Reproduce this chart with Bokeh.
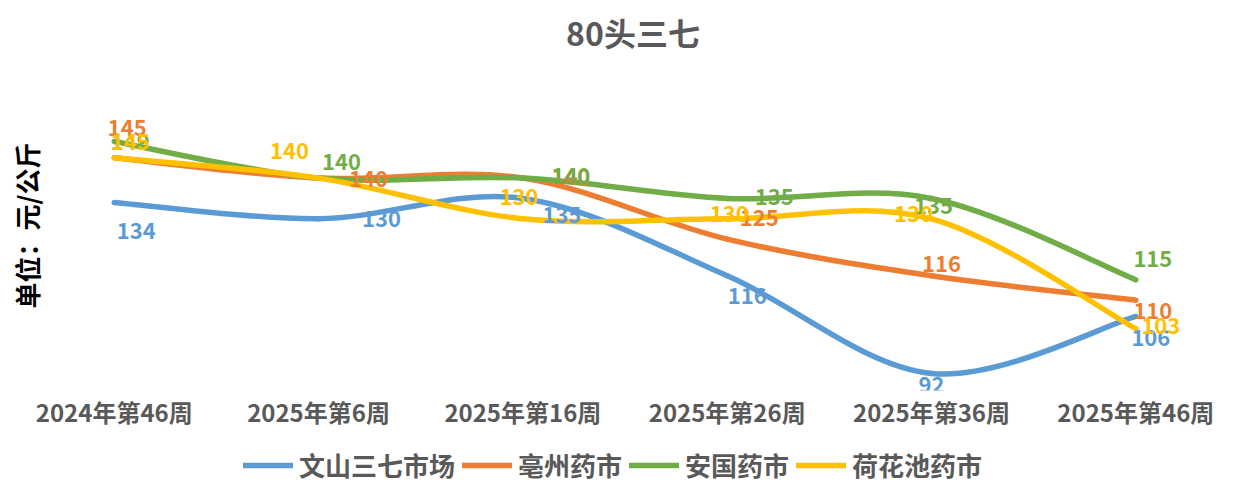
from bokeh.plotting import figure
from bokeh.layouts import column
from bokeh.models import ColumnDataSource, Legend, LegendItem, Title, FixedTicker
from bokeh.core.properties import value
from bokeh.embed import file_html
from bokeh.resources import INLINE

categories = ["2024年第46周", "2025年第6周", "2025年第16周", "2025年第26周", "2025年第36周", "2025年第46周"]
series_names = ["文山三七市场", "亳州药市", "安国药市", "荷花池药市"]
wenshan = [134, 130, 135, 116, 92, 106]
bozhou = [145, 140, 140, 125, 116, 110]
anguo = [149, 140, 140, 135, 135, 115]
hehuachi = [145, 140, 130, 130, 130, 103]
series_values = [wenshan, bozhou, anguo, hehuachi]
colors = ["#5B9BD5", "#ED7D31", "#70AD47", "#FFC000"]

# label pixel offsets (style only)
label_dx = [
    [22, 63, 39, 20, 0, 15],
    [13, 50, 48, 32, 10, 17],
    [16, 23, 48, 47, 2, 17],
    [16, -29, -4, 2, -18, 25],
]
label_dy = [
    [28, 0, 16, 20, 11, 21],
    [-30, 0, -2, -22, -12, 10],
    [0, -17, -3, -2, 7, -21],
    [-16, -28, -22, -5, -5, -3],
]

FONT = "Noto Sans CJK SC"
GREY = "#595959"

p = figure(frame_width=1167, frame_height=330, output_backend="svg", toolbar_location=None,
           x_range=(-0.3168, 5.3947), y_range=(87.8, 168.9),
           min_border_left=49, min_border_right=8, min_border_top=6, min_border_bottom=48)
p.outline_line_color = None
p.xgrid.visible = False
p.ygrid.visible = False
p.yaxis.visible = False
p.background_fill_color = "white"
p.border_fill_color = "white"

p.title.text = "80头三七"
p.title.align = "center"
p.title.offset = -12
p.title.text_font = FONT
p.title.text_font_size = "32px"
p.title.text_font_style = "bold"
p.title.text_color = GREY
p.title.standoff = 12

p.add_layout(Title(text="单位：元/公斤", align="center", text_font=FONT, text_font_size="26px",
                   text_font_style="bold", text_color="black"), "left")

xs = list(range(len(categories)))
p.xaxis.ticker = FixedTicker(ticks=xs)
p.xaxis.major_label_overrides = {i: c for i, c in enumerate(categories)}
p.xaxis.axis_line_color = None
p.xaxis.major_tick_line_color = None
p.xaxis.minor_tick_line_color = None
p.xaxis.major_tick_in = 0
p.xaxis.major_tick_out = 0
p.xaxis.major_label_standoff = 3
p.xaxis.major_label_text_font = FONT
p.xaxis.major_label_text_font_size = "24px"
p.xaxis.major_label_text_font_style = "bold"
p.xaxis.major_label_text_color = GREY


def smooth_segments(x, y, t=1.0 / 6.0):
    n = len(x)
    d = dict(x0=[], y0=[], x1=[], y1=[], cx0=[], cy0=[], cx1=[], cy1=[])
    for i in range(n - 1):
        pm = max(i - 1, 0)
        pn = min(i + 2, n - 1)
        d["x0"].append(x[i]); d["y0"].append(y[i])
        d["x1"].append(x[i + 1]); d["y1"].append(y[i + 1])
        d["cx0"].append(x[i] + (x[i + 1] - x[pm]) * t)
        d["cy0"].append(y[i] + (y[i + 1] - y[pm]) * t)
        d["cx1"].append(x[i + 1] - (x[pn] - x[i]) * t)
        d["cy1"].append(y[i + 1] - (y[pn] - y[i]) * t)
    return d


for vals, col in zip(series_values, colors):
    src = ColumnDataSource(smooth_segments(xs, vals))
    p.bezier(x0="x0", y0="y0", x1="x1", y1="y1", cx0="cx0", cy0="cy0", cx1="cx1", cy1="cy1",
             source=src, line_color=col, line_width=5.5, line_cap="round")

for vals, col, dx, dy in zip(series_values, colors, label_dx, label_dy):
    src = ColumnDataSource(dict(x=xs, y=vals, t=[str(v) for v in vals], dx=dx, dy=dy))
    p.text(x="x", y="y", text="t", x_offset="dx", y_offset="dy", source=src,
           text_align="center", text_baseline="middle", text_font=value(FONT),
           text_font_size="22px", text_font_style="bold", text_color=col)

# legend strip below the chart (its lines sit outside the visible range)
lg = figure(width=1224, height=45, output_backend="svg", toolbar_location=None,
            x_range=(0, 1), y_range=(0, 1), x_axis_type=None, y_axis_type=None,
            min_border_left=0, min_border_right=0, min_border_top=0, min_border_bottom=0)
lg.outline_line_color = None
lg.xgrid.visible = False
lg.ygrid.visible = False
leg_renderers = [lg.line(x=[0, 1], y=[-5, -5], line_color=col, line_width=5.5, line_cap="round")
                 for col in colors]
legend = Legend(items=[LegendItem(label=n, renderers=[r]) for n, r in zip(series_names, leg_renderers)],
                orientation="horizontal", location=(194, 0))
legend.label_text_font = FONT
legend.label_text_font_size = "26px"
legend.label_text_font_style = "bold"
legend.label_text_color = GREY
legend.label_text_line_height = 1.0
legend.glyph_width = 50
legend.label_standoff = 6
legend.spacing = 7
legend.border_line_color = None
legend.background_fill_alpha = 0
legend.padding = 2
legend.margin = 0
lg.add_layout(legend, "center")

layout = column(p, lg, spacing=0)
open("out.html", "w").write(file_html(layout, INLINE))
